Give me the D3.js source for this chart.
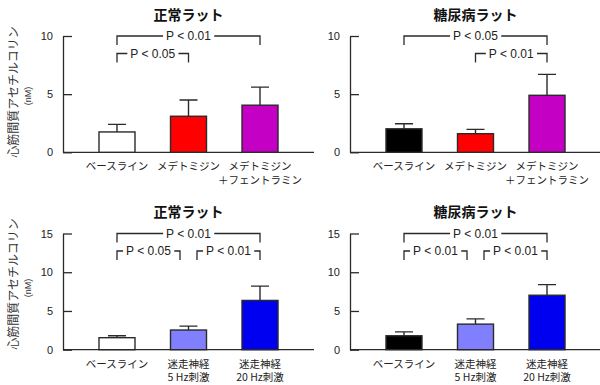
<!DOCTYPE html>
<html>
<head>
<meta charset="utf-8">
<script src="https://cdn.jsdelivr.net/npm/d3@7"></script>
<style>
  body { margin: 0; background: #fff; }
  svg { font-family: "Liberation Sans", Arial, "Noto Sans CJK JP", sans-serif; }
</style>
</head>
<body>
<script>
var w = 600;
var h = 385;

// categories (one array of lines per bar)
var catsDrug = [["ベースライン"], ["メデトミジン"], ["メデトミジン", "＋フェントラミン"]];
var catsVagus = [["ベースライン"], ["迷走神経", "5 Hz刺激"], ["迷走神経", "20 Hz刺激"]];

// means and SEM (nM)
var normalDrugMean = [1.75, 3.1, 4.05];
var normalDrugSem = [0.65, 1.4, 1.55];
var diabDrugMean = [2.02, 1.6, 4.9];
var diabDrugSem = [0.43, 0.37, 1.8];
var normalVagusMean = [1.55, 2.54, 6.36];
var normalVagusSem = [0.25, 0.5, 1.85];
var diabVagusMean = [1.8, 3.3, 7.03];
var diabVagusSem = [0.5, 0.68, 1.37];

var ticksTop = [0, 5, 10];
var ticksBottom = [0, 5, 10, 15];

// significance brackets: [row, from, to, label]
var bracketsNormalDrug = [[0, 0, 2, "P < 0.01"], [1, 0, 1, "P < 0.05"]];
var bracketsDiabDrug = [[0, 0, 2, "P < 0.05"], [1, 1, 2, "P < 0.01"]];
var bracketsNormalVagus = [[0, 0, 2, "P < 0.01"], [1, 0, 1, "P < 0.05"], [1, 1, 2, "P < 0.01"]];
var bracketsDiabVagus = [[0, 0, 2, "P < 0.01"], [1, 0, 1, "P < 0.01"], [1, 1, 2, "P < 0.01"]];

var colorsNormalDrug = ["#ffffff", "#ff0000", "#c400c4"];
var colorsDiabDrug = ["#000000", "#ff0000", "#c400c4"];
var colorsNormalVagus = ["#ffffff", "#8080ff", "#0000f0"];
var colorsDiabVagus = ["#000000", "#8080ff", "#0000f0"];

var yLabel = "心筋間質アセチルコリン";
var yUnit = "(nM)";

var panels = [
    {title: "正常ラット", cats: catsDrug, mean: normalDrugMean, sem: normalDrugSem, colors: colorsNormalDrug,
     brackets: bracketsNormalDrug, ymax: 10, ticks: ticksTop, x0: 63, xLen: 251, yTop: 36, yBottom: 152.3, ylab: 92},
    {title: "糖尿病ラット", cats: catsDrug, mean: diabDrugMean, sem: diabDrugSem, colors: colorsDiabDrug,
     brackets: bracketsDiabDrug, ymax: 10, ticks: ticksTop, x0: 350, xLen: 250, yTop: 36, yBottom: 152.3},
    {title: "正常ラット", cats: catsVagus, mean: normalVagusMean, sem: normalVagusSem, colors: colorsNormalVagus,
     brackets: bracketsNormalVagus, ymax: 15, ticks: ticksBottom, x0: 63, xLen: 251, yTop: 233.5, yBottom: 349.7, ylab: 284},
    {title: "糖尿病ラット", cats: catsVagus, mean: diabVagusMean, sem: diabVagusSem, colors: colorsDiabVagus,
     brackets: bracketsDiabVagus, ymax: 15, ticks: ticksBottom, x0: 350, xLen: 250, yTop: 233.5, yBottom: 349.7}
];

var ink = "#2a2a2a";

var svg = d3.select("body")
    .append("svg")
    .attr("width", w)
    .attr("height", h);

panels.forEach(function(p) {
    var g = svg.append("g")
        .attr("transform", "translate(" + p.x0 + ",0)");

    var yScale = d3.scaleLinear()
        .domain([0, p.ymax])
        .range([p.yBottom, p.yTop]);

    var xScale = d3.scalePoint()
        .domain(d3.range(p.cats.length))
        .range([0, 251])
        .padding(0.755);

//axes
    var yAxis = g.append("g")
        .call(d3.axisLeft(yScale).tickValues(p.ticks).tickSize(-9).tickSizeOuter(0).tickPadding(10));
    yAxis.attr("font-size", 11).attr("font-family", null);
    yAxis.selectAll("path, line").attr("stroke", ink).attr("stroke-width", 1.3);
    yAxis.selectAll("text").attr("fill", "#222");

    var xAxis = g.append("g")
        .attr("transform", "translate(0," + p.yBottom + ")")
        .call(d3.axisBottom(xScale).tickSize(0).tickSizeOuter(0).tickFormat(""));
    xAxis.select(".domain")
        .attr("d", "M0,0H" + p.xLen)
        .attr("stroke", ink).attr("stroke-width", 1.3);

//category labels
    p.cats.forEach(function(lines, i) {
        var t = g.append("text")
            .attr("x", xScale(i))
            .attr("y", p.yBottom + 18)
            .attr("text-anchor", "middle")
            .attr("font-size", 10.5)
            .attr("font-family", "'Noto Sans CJK JP', sans-serif")
            .attr("fill", "#222");
        lines.forEach(function(s, k) {
            t.append("tspan")
                .attr("x", xScale(i))
                .attr("dy", k === 0 ? 0 : 13.5)
                .text(s);
        });
    });

//bars
    g.selectAll("rect.bar")
        .data(p.mean)
        .enter()
        .append("rect")
        .attr("class", "bar")
        .attr("x", (d, i) => xScale(i) - 18)
        .attr("y", d => yScale(d))
        .attr("width", 36)
        .attr("height", d => p.yBottom - yScale(d))
        .attr("fill", (d, i) => p.colors[i])
        .attr("stroke", ink)
        .attr("stroke-width", 1.4);

//error bars (upper only)
    p.mean.forEach(function(m, i) {
        var top = yScale(m + p.sem[i]);
        g.append("path")
            .attr("d", "M" + xScale(i) + "," + yScale(m) + "V" + top
                + "M" + (xScale(i) - 9) + "," + top + "H" + (xScale(i) + 9))
            .attr("fill", "none")
            .attr("stroke", ink)
            .attr("stroke-width", 1.4);
    });

//brackets
    p.brackets.forEach(function(b) {
        var row = b[0], from = b[1], to = b[2];
        var shared = function(idx, self) {
            return p.brackets.some(o => o !== self && o[0] === row && (o[1] === idx || o[2] === idx));
        };
        var x1 = xScale(from) + (shared(from, b) ? 8.5 : 0);
        var x2 = xScale(to) - (shared(to, b) ? 8.5 : 0);
        var yb = yScale(p.ymax) + row * 17.5;
        g.append("path")
            .attr("d", "M" + x1 + "," + (yb + 9) + "V" + yb + "H" + x2 + "V" + (yb + 9))
            .attr("fill", "none")
            .attr("stroke", ink)
            .attr("stroke-width", 1.3);
        var bg = g.append("rect").attr("fill", "#fff");
        var lab = g.append("text")
            .attr("x", (x1 + x2) / 2)
            .attr("y", yb)
            .attr("dy", "0.36em")
            .attr("text-anchor", "middle")
            .attr("font-size", 12)
            .attr("fill", "#222")
            .text(b[3]);
        var bb = lab.node().getBBox();
        bg.attr("x", bb.x - 3).attr("y", yb - 3).attr("width", bb.width + 6).attr("height", 6);
    });

//title
    g.append("text")
        .attr("x", xScale(1))
        .attr("y", yScale(p.ymax) - 21.5)
        .attr("dy", "0.36em")
        .attr("text-anchor", "middle")
        .attr("font-size", 14)
        .attr("font-weight", "bold")
        .attr("font-family", "'Noto Sans CJK JP', sans-serif")
        .attr("fill", "#111")
        .text(p.title);

//y axis title (left panels only)
    if (p.ylab !== undefined) {
        svg.append("text")
            .attr("transform", "translate(14," + p.ylab + ") rotate(-90)")
            .attr("dy", "0.36em")
            .attr("text-anchor", "middle")
            .attr("font-size", 12)
            .attr("font-family", "'Noto Sans CJK JP', sans-serif")
            .attr("fill", "#333")
            .text(yLabel);
        svg.append("text")
            .attr("transform", "translate(28," + (p.ylab + 4) + ") rotate(-90)")
            .attr("dy", "0.36em")
            .attr("text-anchor", "middle")
            .attr("font-size", 9)
            .attr("fill", "#333")
            .text(yUnit);
    }
});
</script>
</body>
</html>
